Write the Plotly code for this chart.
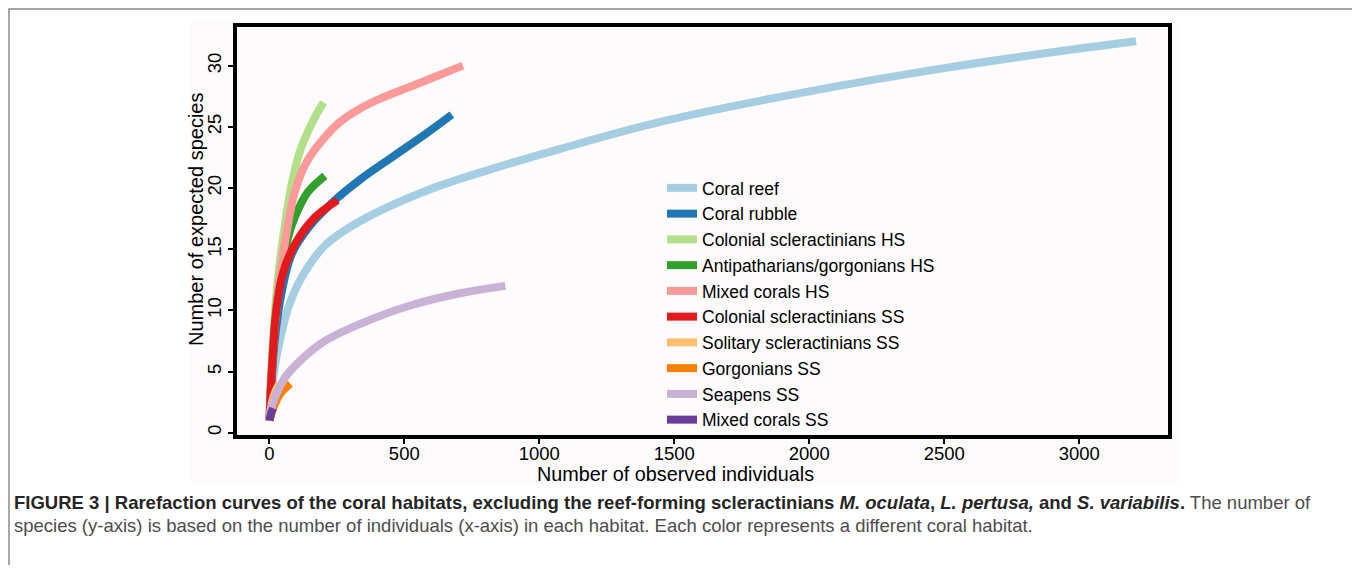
import plotly.graph_objects as go

# ---- data ----
names = ["Coral reef", "Coral rubble", "Colonial scleractinians HS",
         "Antipatharians/gorgonians HS", "Mixed corals HS",
         "Colonial scleractinians SS", "Solitary scleractinians SS",
         "Gorgonians SS", "Seapens SS", "Mixed corals SS"]
colors = ["#A6CEE3", "#1F78B4", "#B2DF8A", "#33A02C", "#FB9A99",
          "#E31A1C", "#FDBF6F", "#FF7F00", "#CAB2D6", "#6A3D9A"]

coral_reef_x = [1, 10, 25, 40, 70, 120, 206, 337, 584, 831, 1078, 1448, 2000, 2500, 3000, 3210]
coral_reef_y = [1, 3.6, 6.0, 7.6, 10.2, 12.7, 15.3, 17.3, 19.8, 21.6, 23.2, 25.4, 27.9, 29.8, 31.4, 32]

coral_rubble_x = [1, 8, 20, 46, 83, 150, 253, 337, 460, 584, 676]
coral_rubble_y = [1, 4.0, 7.5, 11.5, 14.6, 16.9, 19.2, 20.7, 22.6, 24.5, 26]

col_hs_x = [1, 5, 15, 33, 58, 80, 115, 160, 201]
col_hs_y = [1, 3.8, 8.0, 12.8, 17.0, 20.0, 23.1, 25.4, 27]

anti_hs_x = [1, 5, 15, 35, 70, 100, 144, 206]
anti_hs_y = [1, 3.4, 7.0, 11.8, 16.0, 17.9, 19.7, 21]

mixed_hs_x = [1, 5, 15, 33, 60, 96, 140, 200, 262, 337, 411, 559, 717]
mixed_hs_y = [1, 3.4, 7.2, 11.5, 15.8, 19.8, 22.2, 24.0, 25.4, 26.5, 27.3, 28.6, 30]

col_ss_x = [1, 5, 12, 25, 50, 95, 169, 253]
col_ss_y = [1, 3.2, 6.0, 9.8, 13.0, 15.4, 17.6, 19]

sol_ss_x = [1, 10, 25, 38]
sol_ss_y = [1, 2.5, 3.5, 4]

gorg_ss_x = [1, 16, 41, 78]
gorg_ss_y = [1, 2.1, 3.2, 4]

seapens_x = [1, 5, 21, 58, 120, 206, 337, 522, 707, 874]
seapens_y = [1, 1.8, 2.9, 4.5, 6.0, 7.5, 8.9, 10.4, 11.4, 12]

mixed_ss_x = [1, 7, 14]
mixed_ss_y = [1, 1.6, 2]

series_x = [coral_reef_x, coral_rubble_x, col_hs_x, anti_hs_x, mixed_hs_x,
            col_ss_x, sol_ss_x, gorg_ss_x, seapens_x, mixed_ss_x]
series_y = [coral_reef_y, coral_rubble_y, col_hs_y, anti_hs_y, mixed_hs_y,
            col_ss_y, sol_ss_y, gorg_ss_y, seapens_y, mixed_ss_y]

x_ticks = [0, 500, 1000, 1500, 2000, 2500, 3000]
y_ticks = [0, 5, 10, 15, 20, 25, 30]

FONT = "Liberation Sans, Arial, Helvetica, sans-serif"

fig = go.Figure()
for n, c, xs, ys in zip(names, colors, series_x, series_y):
    fig.add_trace(go.Scatter(x=xs, y=ys, mode="lines", name=n,
                             line=dict(color=c, width=8, shape="spline", smoothing=1.0)))

# page has an 8px body margin; work in reference coordinates and shift
OFF = 8
W, H = 1360 - OFF, 573 - 2 * OFF
L, R, T, B = 237, 1168, 27, 435          # plot area in reference pixels


def px(xp):
    return (xp - L) / (R - L)


def py(yp):
    return (B - yp) / (B - T)


fig.update_layout(
    width=W, height=H,
    margin=dict(l=L - OFF, r=W - (R - OFF), t=T - OFF, b=H - (B - OFF), pad=0),
    paper_bgcolor="white",
    plot_bgcolor="#fdfbfc",
    font=dict(family=FONT, color="black"),
    showlegend=True,
    legend=dict(x=px(662), xanchor="left", y=py(304), yanchor="middle",
                bgcolor="rgba(0,0,0,0)", font=dict(size=17.5, family=FONT, color="black"),
                itemwidth=30, tracegroupgap=0),
    xaxis=dict(range=[-119.6, 3328.5], tickvals=x_ticks, ticks="outside", ticklen=5,
               tickwidth=1.5, tickcolor="black", showline=True, linewidth=3.5,
               linecolor="black", mirror=True, showgrid=False, zeroline=False,
               ticklabelstandoff=-6,
               tickfont=dict(size=18.5, family=FONT, color="black")),
    yaxis=dict(range=[-0.188, 33.16], tickvals=y_ticks, ticks="outside", ticklen=5,
               tickwidth=1.5, tickcolor="black", showline=True, linewidth=3.5,
               linecolor="black", mirror=True, showgrid=False, zeroline=False,
               tickangle=-90,
               tickfont=dict(size=18.5, family=FONT, color="black")),
    shapes=[
        dict(type="rect", xref="paper", yref="paper", x0=px(9), x1=px(1354),
             y0=py(600), y1=py(9), line=dict(color="#8a8a8a", width=1.5),
             fillcolor="rgba(0,0,0,0)", layer="below"),
        dict(type="rect", xref="paper", yref="paper", x0=px(190), x1=px(1180),
             y0=py(483), y1=py(22), line=dict(width=0),
             fillcolor="#fdfbfc", layer="below"),
    ],
    annotations=[
        dict(text="Number of observed individuals", xref="paper", yref="paper",
             x=px(675), y=py(474), xanchor="center", yanchor="middle",
             showarrow=False, font=dict(size=19.8, family=FONT, color="black")),
        dict(text="Number of expected species", xref="paper", yref="paper",
             x=px(196), y=py(220), xanchor="center", yanchor="middle",
             textangle=-90, showarrow=False, font=dict(size=20, family=FONT, color="black")),
        dict(text=("<b>FIGURE 3 | Rarefaction curves of the coral habitats, excluding the "
                   "reef-forming scleractinians <i>M. oculata</i>, <i>L. pertusa,</i> and "
                   "<i>S. variabilis</i>.</b><span style='color:#4d4d4d'> The number of</span>"),
             xref="paper", yref="paper", x=px(12), y=py(502), xanchor="left",
             yanchor="middle", showarrow=False, align="left",
             font=dict(size=18.5, family=FONT, color="#262626")),
        dict(text=("species (y-axis) is based on the number of individuals (x-axis) in each "
                   "habitat. Each color represents a different coral habitat."),
             xref="paper", yref="paper", x=px(12), y=py(525), xanchor="left",
             yanchor="middle", showarrow=False, align="left",
             font=dict(size=18.5, family=FONT, color="#4d4d4d")),
    ],
)

fig.write_html("out.html")
